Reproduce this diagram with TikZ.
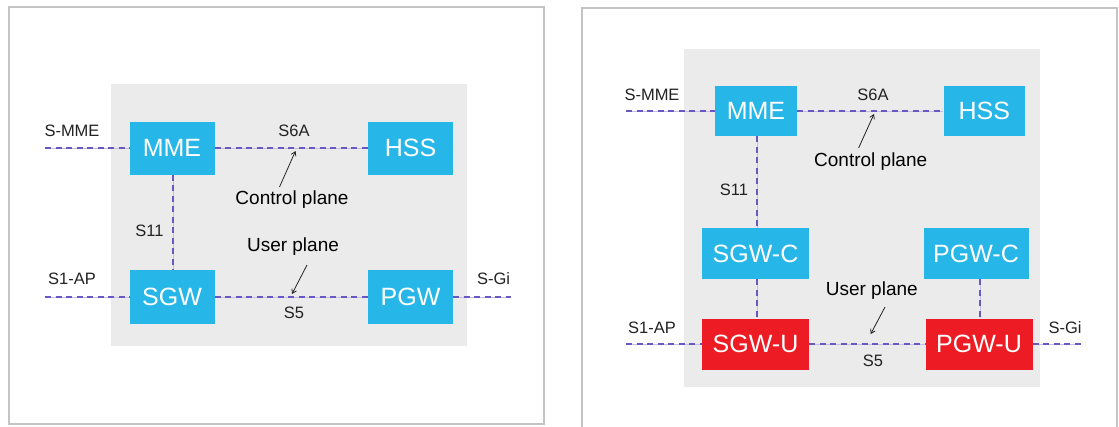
\documentclass[tikz,border=0pt]{standalone}
\usepackage{fontspec}
\setmainfont{Liberation Sans}
\usetikzlibrary{arrows.meta}
\definecolor{boxblue}{HTML}{27B6E8}
\definecolor{boxred}{HTML}{ED1C24}
\definecolor{panelgray}{HTML}{EBEBEB}
\definecolor{framegray}{HTML}{C4C4C4}
\definecolor{linkpurple}{HTML}{6A58C2}
\definecolor{linklight}{HTML}{C6BDE8}
\definecolor{txt}{HTML}{222222}
\tikzset{
  nfbox/.style={fill=boxblue, text=white, inner sep=0pt, font=\fontsize{25}{25}\selectfont, anchor=center},
  nfred/.style={nfbox, fill=boxred},
  link/.style={draw=linklight, line width=0.8pt, postaction={draw=linkpurple, line width=1.5pt, dash pattern=on 6pt off 4.5pt}},
  iflabel/.style={text=txt, font=\fontsize{16.5}{17}\selectfont, inner sep=0pt},
  planelabel/.style={text=black, font=\fontsize{19}{19}\selectfont, inner sep=0pt},
  pointer/.style={draw=txt, line width=0.8pt, -{Straight Barb[length=4pt,width=5pt]}},
  frame/.style={draw=framegray, line width=1.8pt},
}
\begin{document}
\begin{tikzpicture}[x=1pt,y=-1pt]
\useasboundingbox (0,0) rectangle (1119,426);
\clip (0,0) rectangle (1119,426);
\fill[white] (0,0) rectangle (1119,426);
% ---------------- left panel ----------------
\draw[frame] (9,7) rectangle (544,424);
\fill[panelgray] (111,84) rectangle (467,346);
\node[nfbox, minimum width=85pt, minimum height=53pt] (mmeL) at (172,148) {MME};
\node[nfbox, minimum width=85pt, minimum height=53pt] (hssL) at (410.5,148) {HSS};
\node[nfbox, minimum width=85pt, minimum height=54pt] (sgwL) at (172,297) {SGW};
\node[nfbox, minimum width=85pt, minimum height=54pt] (pgwL) at (410.5,297) {PGW};
\coordinate (smmeL) at (45,148);
\coordinate (s1apL) at (45,297);
\coordinate (sgiL) at (511,297);
\draw[link] (smmeL) -- (mmeL.west);
\draw[link] (mmeL.east) -- (hssL.west);
\draw[link] (s1apL) -- (sgwL.west);
\draw[link] (sgwL.east) -- (pgwL.west);
\draw[link] (pgwL.east) -- (sgiL);
\draw[link] ([xshift=1pt]mmeL.south) -- ([xshift=1pt]sgwL.north);
\node[iflabel] (lblSmmeL) at (72,131) {S-MME};
\node[iflabel] (lblS6aL) at (294,131) {S6A};
\node[iflabel] (lblS11L) at (149.5,231) {S11};
\node[iflabel] (lblS1apL) at (72,279) {S1-AP};
\node[iflabel] (lblSgiL) at (493.5,279) {S-Gi};
\node[iflabel] (lblS5L) at (294,313) {S5};
\node[planelabel] (cpL) at (292,200) {Control plane};
\node[planelabel] (upL) at (293,247) {User plane};
\coordinate (cpTipL) at (295.5,151);
\coordinate (cpTailL) at (279.5,187);
\coordinate (upTailL) at (307,265);
\coordinate (upTipL) at (292,294);
\draw[pointer] (cpTailL) -- (cpTipL);
\draw[pointer] (upTailL) -- (upTipL);
% ---------------- right panel ----------------
\draw[frame] (582,8) -- (1117,8) -- (1117,440) -- (582,440) -- cycle;
\fill[panelgray] (684,49) rectangle (1040,387);
\node[nfbox, minimum width=82.5pt, minimum height=50pt] (mmeR) at (756,111) {MME};
\node[nfbox, minimum width=81.5pt, minimum height=50pt] (hssR) at (984.3,111) {HSS};
\node[nfbox, minimum width=107pt, minimum height=51pt] (sgwcR) at (755.5,253.5) {SGW-C};
\node[nfbox, minimum width=105pt, minimum height=51pt] (pgwcR) at (976,253.5) {PGW-C};
\node[nfred, minimum width=107pt, minimum height=51pt] (sgwuR) at (755.5,344) {SGW-U};
\node[nfred, minimum width=107pt, minimum height=51pt] (pgwuR) at (979,344) {PGW-U};
\coordinate (smmeR) at (626,111);
\coordinate (s1apR) at (626,344);
\coordinate (sgiR) at (1081,344);
\draw[link] (smmeR) -- (smmeR -| mmeR.west);
\draw[link] (mmeR.east) -- (mmeR.east -| hssR.west);
\draw[link] (s1apR) -- (s1apR -| sgwuR.west);
\draw[link] (sgwuR.east) -- (sgwuR.east -| pgwuR.west);
\draw[link] (pgwuR.east) -- (sgiR);
\draw[link] ([xshift=1pt]mmeR.south) -- ([xshift=1pt]mmeR.south |- sgwcR.north);
\draw[link] ([xshift=1.5pt]sgwcR.south) -- ([xshift=1.5pt]sgwuR.north);
\draw[link] ([xshift=1pt]pgwcR.south -| pgwuR.north) -- ([xshift=1pt]pgwuR.north);
\node[iflabel] (lblSmmeR) at (652,95) {S-MME};
\node[iflabel] (lblS6aR) at (873,95) {S6A};
\node[iflabel] (lblS11R) at (734,190) {S11};
\node[iflabel] (lblS1apR) at (652,328) {S1-AP};
\node[iflabel] (lblSgiR) at (1065,328) {S-Gi};
\node[iflabel] (lblS5R) at (873,361) {S5};
\node[planelabel] (cpR) at (870.7,162) {Control plane};
\node[planelabel] (upR) at (871.8,291) {User plane};
\coordinate (cpTipR) at (874,114);
\coordinate (cpTailR) at (858.6,148);
\coordinate (upTailR) at (885,307);
\coordinate (upTipR) at (870.7,334);
\draw[pointer] (cpTailR) -- (cpTipR);
\draw[pointer] (upTailR) -- (upTipR);
\end{tikzpicture}
\end{document}
